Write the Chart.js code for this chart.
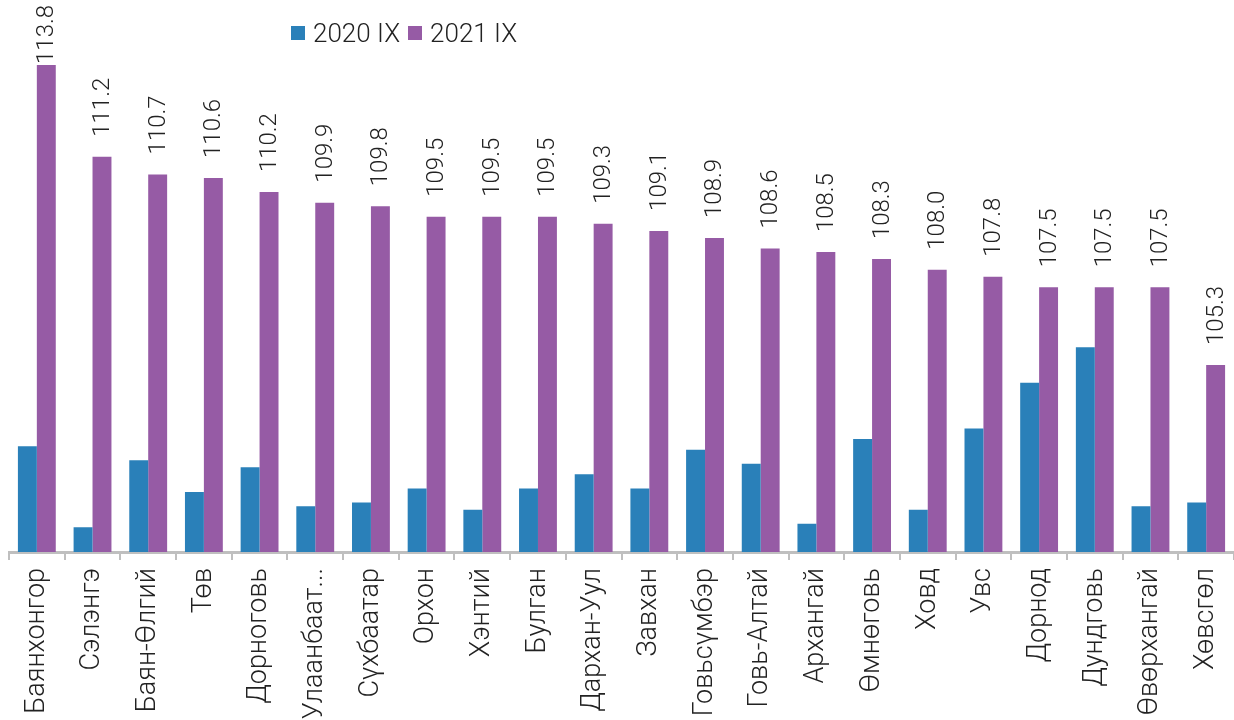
<!DOCTYPE html>
<html>
<head>
<meta charset="utf-8">
<script src="https://cdn.jsdelivr.net/npm/chart.js@4/dist/chart.umd.min.js"></script>
<style>
  html, body { margin: 0; padding: 0; background: #fff; }
  #wrap { position: relative; width: 1234px; height: 720px; }
  #legend { position: absolute; left: 291px; top: 18px; display: flex; align-items: center;
            font-family: Roboto, "Noto Sans", sans-serif; font-weight: 300; font-size: 26px; color: #222; }
  #legend .item { display: flex; align-items: center; margin-right: 8px; }
  #legend .sw { width: 14px; height: 14px; margin-right: 8px; }
</style>
</head>
<body>
<div id="wrap">
  <canvas id="c" width="1234" height="720"></canvas>
  <div id="legend"></div>
</div>
<script>
const categories = ["Баянхонгор","Сэлэнгэ","Баян-Өлгий","Төв","Дорноговь","Улаанбаат...","Сүхбаатар","Орхон","Хэнтий","Булган","Дархан-Уул","Завхан","Говьсүмбэр","Говь-Алтай","Архангай","Өмнөговь","Ховд","Увс","Дорнод","Дундговь","Өвөрхангай","Хөвсгөл"];
const series2020Label = "2020 IX";
const series2021Label = "2021 IX";
const values2020 = [103.0,100.7,102.6,101.7,102.4,101.3,101.4,101.8,101.2,101.8,102.2,101.8,102.9,102.5,100.8,103.2,101.2,103.5,104.8,105.8,101.3,101.4];
const values2021 = [113.8,111.2,110.7,110.6,110.2,109.9,109.8,109.5,109.5,109.5,109.3,109.1,108.9,108.6,108.5,108.3,108.0,107.8,107.5,107.5,107.5,105.3];

const colors = ["#2a80b9", "#965ba5"];
const FONT = "Roboto, 'Noto Sans', sans-serif";

const labelPlugin = {
  id: "barLabels",
  afterDatasetsDraw(chart) {
    const ctx = chart.ctx;
    const meta = chart.getDatasetMeta(1);
    ctx.save();
    ctx.font = "300 24px " + FONT;
    ctx.fillStyle = "#222";
    ctx.textAlign = "left";
    ctx.textBaseline = "middle";
    meta.data.forEach((bar, i) => {
      const txt = values2021[i].toFixed(1);
      const w = ctx.measureText(txt).width;
      let start = bar.y - 20;
      if (start - w < 5) start = 5 + w;
      ctx.save();
      ctx.translate(bar.x + 1, start);
      ctx.rotate(-Math.PI / 2);
      ctx.fillText(txt, 0, 0);
      ctx.restore();
    });
    ctx.restore();
  }
};

const chart = new Chart(document.getElementById("c"), {
  type: "bar",
  data: {
    labels: categories,
    datasets: [
      { label: series2020Label, data: values2020, backgroundColor: colors[0], categoryPercentage: 0.68, barPercentage: 1.0 },
      { label: series2021Label, data: values2021, backgroundColor: colors[1], categoryPercentage: 0.68, barPercentage: 1.0 }
    ]
  },
  options: {
    responsive: false,
    animation: false,
    layout: { padding: { top: 10, left: 9, right: -3, bottom: 0 } },
    plugins: { legend: { display: false }, tooltip: { enabled: false } },
    scales: {
      x: {
        grid: { offset: true, drawOnChartArea: false, drawTicks: true, tickLength: 8, color: "#bfbfbf", lineWidth: 2 },
        border: { color: "#bfbfbf", width: 3 },
        ticks: { autoSkip: false, maxRotation: 90, minRotation: 90, padding: 8, color: "#222",
                 font: { family: FONT, size: 27, weight: "300" } },
        afterFit(scale) { scale.height = 168; scale.paddingLeft = 0; scale.paddingRight = 0; }
      },
      y: { display: false, min: 100, max: 115.36 }
    }
  },
  plugins: [labelPlugin]
});

const leg = document.getElementById("legend");
chart.data.datasets.forEach((ds) => {
  const item = document.createElement("div");
  item.className = "item";
  const sw = document.createElement("div");
  sw.className = "sw";
  sw.style.background = ds.backgroundColor;
  const t = document.createElement("span");
  t.textContent = ds.label;
  item.appendChild(sw);
  item.appendChild(t);
  leg.appendChild(item);
});
</script>
</body>
</html>
